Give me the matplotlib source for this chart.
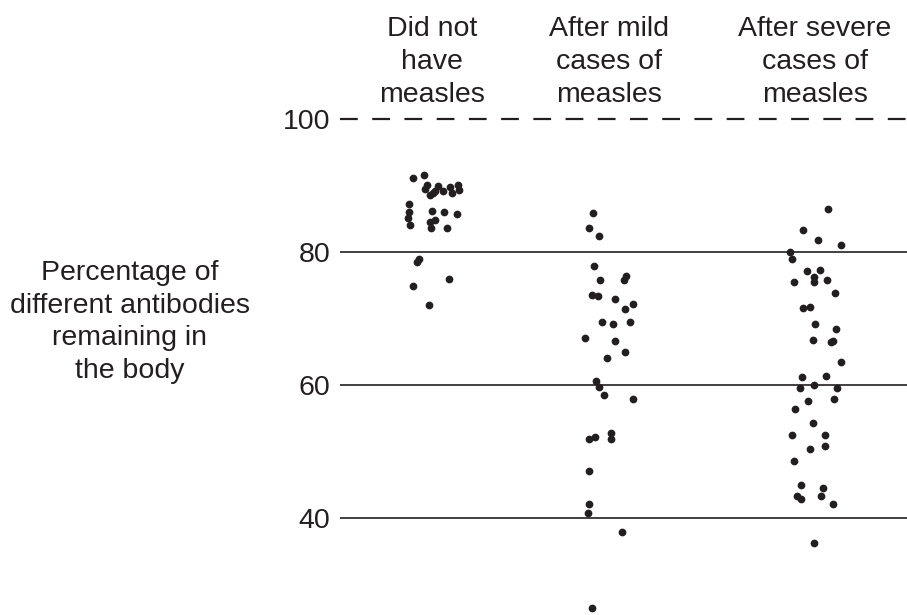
import matplotlib
matplotlib.use("Agg")
import matplotlib.pyplot as plt

plt.rcParams['font.family'] = ['Liberation Sans', 'DejaVu Sans']

# column headers
groups = ["Did not\nhave\nmeasles",
          "After mild\ncases of\nmeasles",
          "After severe\ncases of\nmeasles"]

# percentage of antibodies remaining, with horizontal jitter
none_vals = [91.1, 91.6, 90.1, 89.5, 89.9, 89.2, 89.1, 89.8, 88.8, 90.0,
             89.3, 88.5, 88.8, 87.2, 86.0, 85.1, 84.0, 86.2, 86.0, 85.7,
             84.5, 84.8, 83.6, 83.6, 78.5, 78.9, 75.9, 74.9, 72.0]
none_jit = [-0.101, -0.040, -0.028, -0.037, 0.033, 0.016, 0.056, 0.094, 0.103, 0.134,
            0.141, -0.010, 0.007, -0.119, -0.120, -0.127, -0.115, 0.000, 0.064, 0.131,
            -0.010, 0.017, -0.004, 0.077, -0.080, -0.069, 0.089, -0.098, -0.017]

mild_vals = [85.9, 83.6, 82.4, 77.9, 75.8, 76.3, 75.7, 73.5, 73.3, 72.9,
             72.1, 71.4, 69.4, 69.2, 69.5, 67.1, 66.6, 64.9, 64.1, 60.6,
             59.7, 58.5, 57.8, 52.8, 51.8, 51.8, 52.1, 47.1, 42.1, 40.7,
             37.8, 26.4]
mild_jit = [-0.082, -0.104, -0.051, -0.078, -0.049, 0.090, 0.078, -0.087, -0.057, 0.033,
            0.125, 0.085, -0.035, 0.021, 0.111, -0.124, 0.031, 0.084, -0.009, -0.069,
            -0.052, -0.026, 0.122, 0.010, 0.010, -0.106, -0.073, -0.103, -0.106, -0.108,
            0.068, -0.087]

severe_vals = [86.5, 83.3, 81.8, 81.0, 80.0, 78.9, 77.1, 77.2, 76.2, 75.4,
               75.8, 75.4, 73.8, 71.6, 71.7, 69.1, 68.4, 66.7, 66.4, 66.6,
               63.5, 61.1, 61.3, 59.5, 60.0, 59.5, 57.5, 57.8, 56.4, 54.2,
               52.4, 52.4, 50.8, 50.3, 48.5, 44.9, 44.5, 43.2, 42.8, 43.3,
               42.0, 36.2]
severe_jit = [0.066, -0.063, 0.017, 0.136, -0.129, -0.119, -0.042, 0.028, -0.004, -0.005,
              0.061, -0.111, 0.103, -0.063, -0.025, -0.002, 0.110, -0.009, 0.084, 0.092,
              0.136, -0.068, 0.057, -0.078, -0.004, 0.113, -0.038, 0.098, -0.106, -0.012,
              -0.122, 0.051, 0.051, -0.026, -0.108, -0.073, 0.043, -0.096, -0.073, 0.031,
              0.096, -0.007]

yticks = [40, 60, 80, 100]

ink = "#231f20"
group_pos = [0.0, 0.925, 2.0]

fig = plt.figure(figsize=(9.07, 6.15), dpi=100)
ax = fig.add_axes([340 / 907, 0, 1 - 340 / 907, 1])

for pos, vals, jit in zip(group_pos,
                          [none_vals, mild_vals, severe_vals],
                          [none_jit, mild_jit, severe_jit]):
    ax.scatter([pos + j for j in jit], vals, s=31, color=ink, linewidths=0, zorder=3)

for y in yticks[:-1]:
    ax.axhline(y, color=ink, lw=1.2, zorder=1)
ax.axhline(100, color=ink, lw=1.6, dashes=(8.0, 6.5), zorder=1)

for pos, name in zip(group_pos, groups):
    ax.text(pos, 108.6, name, ha='center', va='center', fontsize=20.5,
            color=ink, linespacing=1.34)

ax.set_xlim(-0.48, 2.48)
ax.set_ylim(25.36, 117.9)
ax.set_yticks(yticks)
ax.set_yticklabels([str(t) for t in yticks], fontsize=20.5, color=ink)
ax.tick_params(axis='y', length=0, pad=7)
ax.set_xticks([])
for s in ax.spines.values():
    s.set_visible(False)
ax.patch.set_alpha(0)

fig.text(130 / 907, 1 - 322 / 615,
         "Percentage of\ndifferent antibodies\nremaining in\nthe body",
         ha='center', va='center', fontsize=20.5, color=ink, linespacing=1.34)

fig.savefig("out.png", dpi=100)
